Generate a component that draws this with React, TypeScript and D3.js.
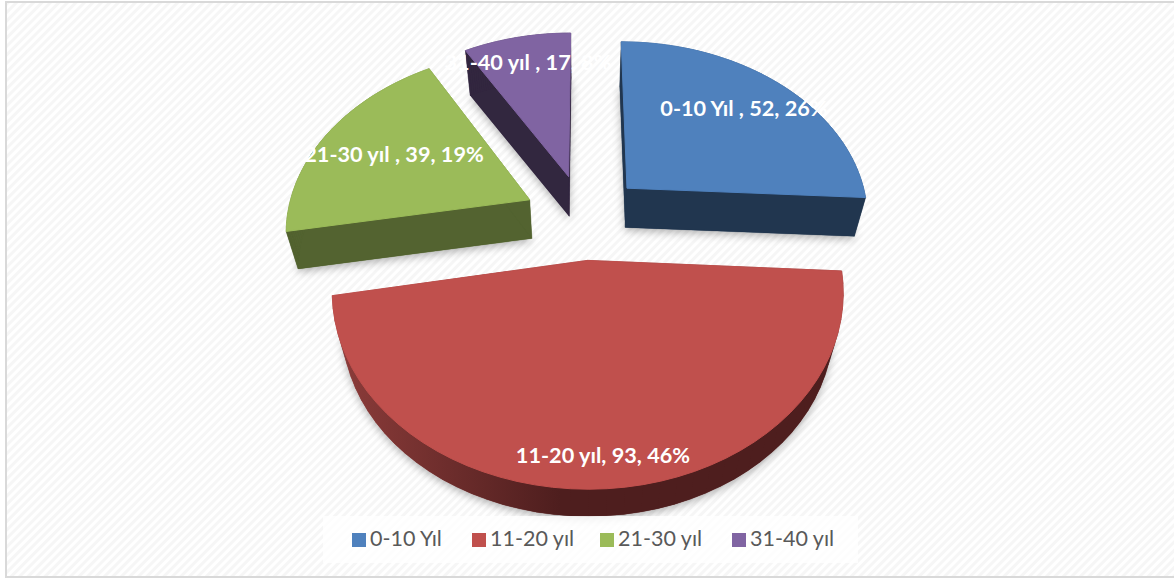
import React from "react";
import * as d3 from "d3";

const categories = ["0-10 Yıl", "11-20 yıl", "21-30 yıl", "31-40 yıl"];
const counts = [52, 93, 39, 17];
const percents = [26, 46, 19, 8];
const labelSeparators = [" , ", ", ", " , ", " , "];
const topColors = ["#4f81bd", "#c0504d", "#9bbb59", "#8064a2"];
const sideColors = ["#21364f", "#4e1e1e", "#536330", "#32273f"];
const legendColors = ["#4f81bd", "#c0504d", "#9bbb59", "#8064a2"];

const W = 1174, H = 579;
const cx = 584, cy = 218, A = 243, B = 178, k = 0.157;
const explode = [0.25, 0.23, 0.25, 0.25];
const depth = 38, shrink = 0.96;
const labelPos: [number, number][] = [[744, 116], [603, 463], [394, 162], [528, 70]];
const legendX = [352, 472, 600, 732];

const slices = d3.pie<number>().sort(null).value((d) => d)(counts);

const top = (X: number, Y: number): [number, number] => {
  const w = 1 / (1 - k * Y);
  return [cx + A * X * w, cy + B * Y * w];
};
const bottom = (p: [number, number]): [number, number] => [
  cx + (p[0] - cx) * shrink,
  cy + (p[1] - cy) * shrink + depth,
];

function outline(i: number) {
  const s = slices[i];
  const mid = (s.startAngle + s.endAngle) / 2;
  const ex = explode[i] * Math.sin(mid), ey = -explode[i] * Math.cos(mid);
  const n = 48;
  const arc = d3.range(n + 1).map((j) => {
    const t = s.startAngle + ((s.endAngle - s.startAngle) * j) / n;
    return top(ex + Math.sin(t), ey - Math.cos(t));
  });
  return { apex: top(ex, ey), arc };
}
const line = d3.line();

export default function App() {
  const shapes = slices.map((_, i) => outline(i));
  const drawOrder = [3, 2, 0, 1];
  return (
    <svg width={W} height={H} style={{ position: "absolute", left: 0, top: 0 }} fontFamily="Lato, 'Open Sans', sans-serif">
      <defs>
        <pattern id="hatch" width="6" height="6" patternUnits="userSpaceOnUse" patternTransform="rotate(45)">
          <rect width="6" height="6" fill="#ffffff" />
          <rect width="3" height="6" fill="#f6f6f6" />
        </pattern>
        <linearGradient id="redSide" gradientUnits="userSpaceOnUse" x1="345" x2="560" y1="0" y2="0">
          <stop offset="0" stopColor="#8a3b39" />
          <stop offset="1" stopColor="#4e1e1e" />
        </linearGradient>
        <filter id="soft" x="-10%" y="-10%" width="120%" height="120%">
          <feDropShadow dx="0" dy="3" stdDeviation="4" floodColor="#000" floodOpacity="0.3" />
        </filter>
      </defs>
      <rect x={0} y={0} width={W} height={H} fill="#ffffff" />
      <rect x={6} y={2} width={W + 10} height={575} fill="url(#hatch)" stroke="#d9d9d9" strokeWidth={2} />
      {drawOrder.map((i) => {
        const { apex, arc } = shapes[i];
        const ring: [number, number][] = [apex, ...arc, apex];
        const quads = d3.range(ring.length - 1).map((j) => [ring[j], ring[j + 1], bottom(ring[j + 1]), bottom(ring[j]), ring[j]] as [number, number][]);
        const fillSide = i === 1 ? "url(#redSide)" : sideColors[i];
        return (
          <g key={i}>
            <g filter="url(#soft)">
              <path d={line([...ring.slice(0, -1).map(bottom)]) + "Z"} fill={fillSide} />
            </g>
            {quads.map((q, j) => (
              <path key={j} d={line(q) + "Z"} fill={fillSide} stroke={fillSide} strokeWidth={0.3} />
            ))}
            <path d={line(ring) + "Z"} fill={topColors[i]} stroke={topColors[i]} strokeWidth={1} strokeLinejoin="round" />
          </g>
        );
      })}
      {categories.map((c, i) => (
        <text key={c} x={labelPos[i][0]} y={labelPos[i][1]} textAnchor="middle" fill="#ffffff" fontSize={21.7} fontWeight={700}>
          {`${c}${labelSeparators[i]}${counts[i]}, ${percents[i]}%`}
        </text>
      ))}
      <rect x={323} y={516} width={535} height={47} fill="#ffffff" opacity={0.8} />
      {categories.map((c, i) => (
        <g key={c}>
          <rect x={legendX[i]} y={533} width={14} height={14} fill={legendColors[i]} />
          <text x={legendX[i] + 18} y={546} fill="#595959" fontSize={21.5}>{c}</text>
        </g>
      ))}
    </svg>
  );
}
